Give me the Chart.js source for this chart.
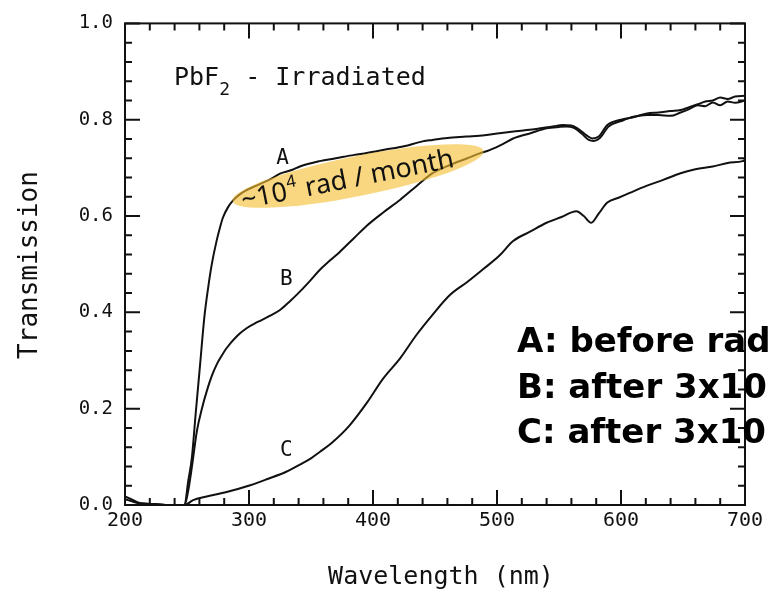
<!DOCTYPE html>
<html>
<head>
<meta charset="utf-8">
<script src="https://cdn.jsdelivr.net/npm/chart.js@4"></script>
<style>
  html, body { margin: 0; padding: 0; background: #fff; }
  #wrap { width: 771px; height: 590px; }
</style>
</head>
<body>
<div id="wrap"><canvas id="chart" width="771" height="590"></canvas></div>
<script>
// wavelength (nm) and transmission for each sample
const wlA = [200, 205, 210, 215, 225, 235, 245, 248, 251, 254, 257, 260.5, 264, 267, 270, 274, 277, 279, 283, 287, 292, 298, 305, 317, 325, 335, 341, 357, 370, 385, 395, 410, 425, 440, 448, 460, 475, 490, 502, 515, 530, 545, 553, 560, 566, 572, 577, 582, 589, 600, 610, 621, 630, 640, 648, 655, 662, 668, 674, 680, 686, 692, 700];
const tA  = [0.018, 0.012, 0.006, 0.003, 0.002, 0.0, 0.0, 0.0, 0.05, 0.10, 0.19, 0.29, 0.39, 0.45, 0.50, 0.55, 0.58, 0.597, 0.618, 0.632, 0.644, 0.654, 0.662, 0.676, 0.688, 0.696, 0.703, 0.714, 0.72, 0.727, 0.731, 0.738, 0.745, 0.755, 0.758, 0.762, 0.765, 0.768, 0.772, 0.776, 0.78, 0.786, 0.789, 0.788, 0.78, 0.768, 0.761, 0.765, 0.789, 0.80, 0.805, 0.813, 0.815, 0.818, 0.82, 0.826, 0.832, 0.838, 0.84, 0.846, 0.843, 0.848, 0.85];

const wlB = [200, 205, 210, 220, 235, 245, 248, 251, 254, 258, 262, 266, 270, 274, 278, 282, 290, 298, 307, 317, 325, 333, 341, 349, 357, 365, 373, 385, 395, 408, 422, 435, 448, 462, 476, 486, 494, 505, 513, 527, 540, 550, 556, 562, 568, 574, 578, 583, 590, 600, 610, 621, 630, 640, 648, 655, 662, 668, 674, 680, 686, 692, 700];
const tB  = [0.012, 0.008, 0.004, 0.002, 0.0, 0.0, 0.0, 0.03, 0.08, 0.154, 0.2, 0.237, 0.268, 0.292, 0.31, 0.326, 0.35, 0.367, 0.38, 0.393, 0.405, 0.423, 0.443, 0.465, 0.488, 0.507, 0.525, 0.555, 0.58, 0.607, 0.634, 0.662, 0.689, 0.706, 0.72, 0.73, 0.737, 0.75, 0.761, 0.772, 0.782, 0.785, 0.786, 0.783, 0.772, 0.758, 0.756, 0.762, 0.786, 0.797, 0.806, 0.81, 0.81, 0.808, 0.815, 0.822, 0.83, 0.828, 0.836, 0.83, 0.838, 0.835, 0.84];

const wlC = [200, 220, 240, 248, 255, 265, 282, 301, 315, 330, 341, 350, 357, 368, 381, 395, 408, 422, 435, 448, 462, 476, 489, 502, 513, 527, 540, 552, 564, 570, 576, 582, 589, 598, 607, 620, 634, 648, 660, 674, 686, 698, 700];
const tC  = [0.0, 0.0, 0.0, 0.0, 0.01, 0.017, 0.027, 0.041, 0.054, 0.069, 0.084, 0.097, 0.11, 0.132, 0.165, 0.212, 0.262, 0.305, 0.353, 0.395, 0.436, 0.463, 0.49, 0.518, 0.548, 0.568, 0.586, 0.598, 0.61, 0.6, 0.586, 0.605, 0.628, 0.638, 0.648, 0.662, 0.675, 0.689, 0.697, 0.703, 0.71, 0.714, 0.716];

const xTicks = [200, 300, 400, 500, 600, 700];
const yTicks = [0.0, 0.2, 0.4, 0.6, 0.8, 1.0];

// curve letters placed next to each trace: [wavelength, transmission]
const curveLabels = [['A', 327, 0.72], ['B', 330, 0.468], ['C', 330, 0.113]];
const notes = ['A: before rad', 'B: after 3x10', 'C: after 3x10'];

const pts = (xs, ys) => xs.map((x, i) => ({ x, y: ys[i] }));

const line = (data) => ({
  data,
  borderColor: '#111',
  borderWidth: 2,
  pointRadius: 0,
  fill: false,
  cubicInterpolationMode: 'monotone'
});

const mono = '"DejaVu Sans Mono", monospace';

// frame, inward ticks, highlight band and text overlays
const overlay = {
  id: 'overlay',
  afterDatasetsDraw(chart) {
    const { ctx, chartArea: a, scales: { x, y } } = chart;
    ctx.save();

    // highlighted dose-rate band
    const cx = 358, cy = 176, ang = -11.3 * Math.PI / 180;
    ctx.translate(cx, cy);
    ctx.rotate(ang);
    ctx.fillStyle = 'rgba(245,190,50,0.62)';
    ctx.beginPath();
    ctx.ellipse(0, 0, 128, 20, 0, 0, Math.PI * 2);
    ctx.fill();
    ctx.fillStyle = '#111';
    ctx.textBaseline = 'alphabetic';
    const p1 = '~10', p2 = '4', p3 = ' rad / month';
    ctx.font = '27px "Noto Sans"';
    const w1 = ctx.measureText(p1).width, w3 = ctx.measureText(p3).width;
    ctx.font = '17px "Noto Sans"';
    const w2 = ctx.measureText(p2).width;
    const tx = -(w1 + w2 + w3) / 2 - 12;
    ctx.font = '27px "Noto Sans"';
    ctx.fillText(p1, tx, 10);
    ctx.font = '17px "Noto Sans"';
    ctx.fillText(p2, tx + w1 + 1, -2);
    ctx.font = '27px "Noto Sans"';
    ctx.fillText(p3, tx + w1 + w2 + 2, 10);
    ctx.setTransform(1, 0, 0, 1, 0, 0);

    // box
    ctx.strokeStyle = '#111';
    ctx.lineWidth = 2;
    ctx.strokeRect(a.left, a.top, a.right - a.left, a.bottom - a.top);

    // ticks pointing into the plot on all four sides
    ctx.beginPath();
    for (let v = 200; v <= 700; v += 20) {
      const px = x.getPixelForValue(v);
      const len = v % 100 === 0 ? 15 : 7;
      ctx.moveTo(px, a.bottom); ctx.lineTo(px, a.bottom - len);
      ctx.moveTo(px, a.top); ctx.lineTo(px, a.top + len);
    }
    for (let i = 0; i <= 25; i++) {
      const py = y.getPixelForValue(i * 0.04);
      const len = i % 5 === 0 ? 15 : 7;
      ctx.moveTo(a.left, py); ctx.lineTo(a.left + len, py);
      ctx.moveTo(a.right, py); ctx.lineTo(a.right - len, py);
    }
    ctx.stroke();

    // plot title
    ctx.fillStyle = '#111';
    ctx.textAlign = 'left';
    ctx.textBaseline = 'alphabetic';
    ctx.font = '25px ' + mono;
    ctx.fillText('PbF', 174, 85);
    const wp = ctx.measureText('PbF').width;
    ctx.font = '18px ' + mono;
    ctx.fillText('2', 174 + wp, 95);
    ctx.font = '25px ' + mono;
    ctx.fillText(' - Irradiated', 174 + wp + 11, 85);

    // curve letters
    ctx.font = '21px ' + mono;
    ctx.textAlign = 'center';
    ctx.textBaseline = 'middle';
    curveLabels.forEach(([t, wl, tr]) => {
      ctx.fillText(t, x.getPixelForValue(wl), y.getPixelForValue(tr));
    });

    // axis titles
    ctx.font = '25px ' + mono;
    ctx.fillText('Wavelength (nm)', 441, 577);
    ctx.save();
    ctx.translate(30, 265);
    ctx.rotate(-Math.PI / 2);
    ctx.font = '26px ' + mono;
    ctx.fillText('Transmission', 0, 0);
    ctx.restore();

    // sample notes
    ctx.fillStyle = '#000';
    ctx.textAlign = 'left';
    ctx.textBaseline = 'alphabetic';
    ctx.font = 'bold 34px "DejaVu Sans"';
    notes.forEach((t, i) => ctx.fillText(t, 517, 352 + i * 45.5));

    ctx.restore();
  }
};

new Chart(document.getElementById('chart'), {
  type: 'line',
  data: {
    datasets: [line(pts(wlA, tA)), line(pts(wlB, tB)), line(pts(wlC, tC))]
  },
  options: {
    responsive: false,
    animation: false,
    layout: { padding: { top: 19, right: 26, left: 0, bottom: 0 } },
    plugins: { legend: { display: false }, tooltip: { enabled: false } },
    scales: {
      x: {
        type: 'linear',
        min: 200,
        max: 700,
        afterBuildTicks: (s) => { s.ticks = xTicks.map(v => ({ value: v })); },
        afterFit: (s) => { s.height = 85; },
        grid: { display: false, drawTicks: false },
        border: { display: false },
        ticks: { color: '#111', font: { family: mono, size: 20 }, padding: 4, maxRotation: 0 }
      },
      y: {
        min: 0,
        max: 1,
        afterBuildTicks: (s) => { s.ticks = yTicks.map(v => ({ value: v })); },
        afterFit: (s) => { s.width = 125; },
        grid: { display: false, drawTicks: false },
        border: { display: false },
        ticks: { color: '#111', font: { family: mono, size: 19 }, padding: 12, callback: (v) => v.toFixed(1) }
      }
    }
  },
  plugins: [overlay]
});
</script>
</body>
</html>
